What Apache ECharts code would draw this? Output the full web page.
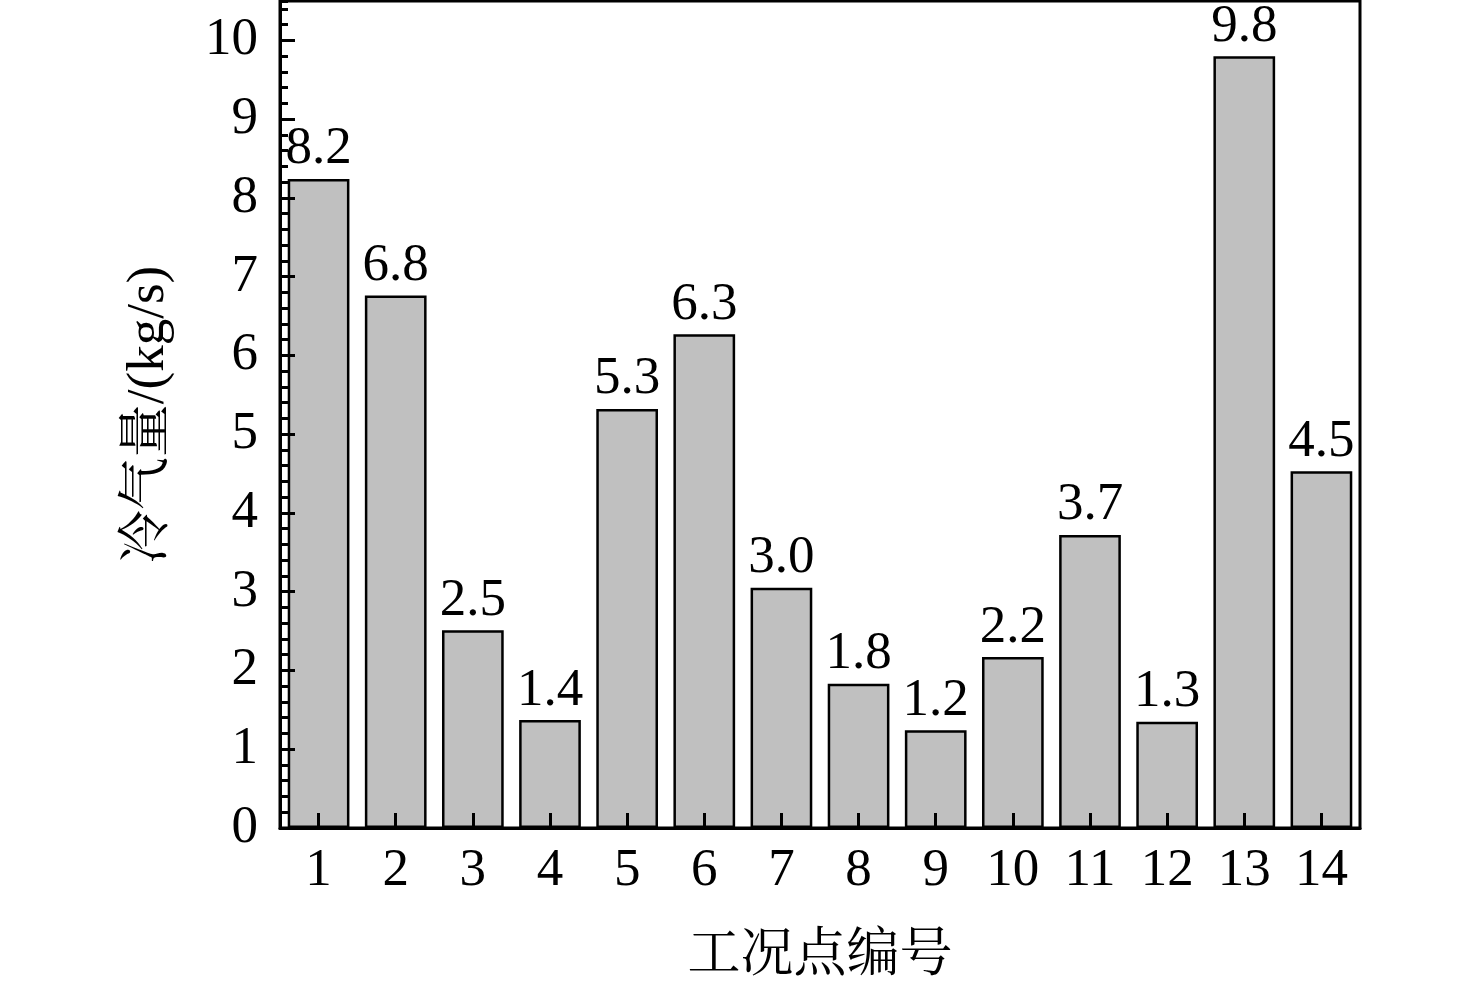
<!DOCTYPE html>
<html>
<head>
<meta charset="utf-8">
<script src="https://cdn.jsdelivr.net/npm/echarts@6/dist/echarts.min.js"></script>
<style>
html,body{margin:0;padding:0;background:#fff;}
#c{width:1476px;height:989px;}
</style>
</head>
<body>
<div id="c"></div>
<script>
var categories = ['1','2','3','4','5','6','7','8','9','10','11','12','13','14'];
var values = [8.24, 6.76, 2.51, 1.37, 5.32, 6.27, 3.05, 1.83, 1.24, 2.17, 3.72, 1.35, 9.80, 4.53];
var valueLabels = ['8.2','6.8','2.5','1.4','5.3','6.3','3.0','1.8','1.2','2.2','3.7','1.3','9.8','4.5'];
var yTicks = [0,1,2,3,4,5,6,7,8,9,10];

var FONT = "'Liberation Serif','Times New Roman','Noto Serif CJK SC','Noto Sans CJK SC',serif";
var chart = echarts.init(document.getElementById('c'));
chart.setOption({
  animation: false,
  backgroundColor: '#fff',
  grid: {left: 280, right: 116, top: 1, bottom: 161, show: true, borderColor: '#000', borderWidth: 3, backgroundColor: 'transparent', z: 10},
  xAxis: {
    type: 'category',
    data: categories,
    z: 5,
    name: '工况点编号',
    nameLocation: 'middle',
    nameGap: 103,
    nameTextStyle: {fontFamily: FONT, fontSize: 53, color: '#000'},
    axisLine: {show: true, lineStyle: {color: '#000', width: 3}},
    axisTick: {show: true, inside: true, alignWithLabel: true, length: 15, lineStyle: {color: '#000', width: 3}},
    axisLabel: {fontFamily: FONT, fontSize: 53, color: '#000', margin: 17}
  },
  yAxis: [{
    type: 'value',
    min: 0, max: 10.5, interval: 1,
    z: 5,
    name: '冷气量/(kg/s)',
    nameLocation: 'middle',
    nameGap: 104,
    nameTextStyle: {fontFamily: FONT, fontSize: 53, color: '#000'},
    axisLine: {show: true, lineStyle: {color: '#000', width: 3}},
    axisTick: {show: true, inside: true, length: 15, lineStyle: {color: '#000', width: 3}},
    splitLine: {show: false},
    axisLabel: {fontFamily: FONT, fontSize: 53, color: '#000', margin: 22, showMaxLabel: false,
      formatter: function (v) { return yTicks.indexOf(v) >= 0 ? String(v) : ''; }}
  }, {
    type: 'value',
    min: 0, max: 10.5, interval: 0.2,
    position: 'left',
    z: 5,
    axisLine: {show: false},
    axisTick: {show: true, inside: true, length: 8, lineStyle: {color: '#000', width: 3}},
    axisLabel: {show: false},
    splitLine: {show: false}
  }],
  series: [{
    type: 'bar',
    data: values,
    barWidth: '80%',
    itemStyle: {color: '#c0c0c0', borderColor: '#000', borderWidth: 2.5},
    label: {
      show: true, position: 'top', distance: 3,
      fontFamily: FONT, fontSize: 53, color: '#000',
      formatter: function (p) { return valueLabels[p.dataIndex]; }
    }
  }]
});
</script>
</body>
</html>
